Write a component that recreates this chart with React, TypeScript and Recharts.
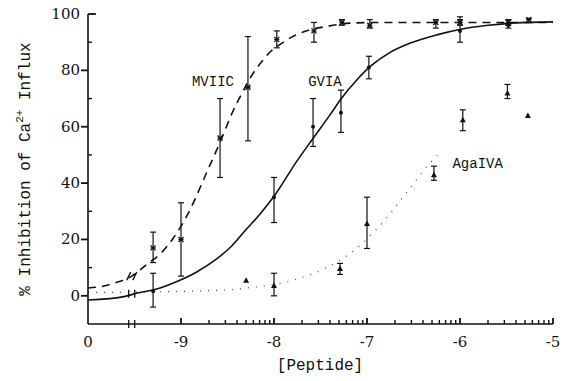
import React from "react";
import { ComposedChart, Line, Scatter, ErrorBar, XAxis, YAxis, ReferenceDot } from "recharts";

// x is log10 of the peptide concentration; the "0" control is drawn at -10 beyond the axis break
const xMajorTicks = [-10, -9, -8, -7, -6, -5];
const xTickLabels = ["0", "-9", "-8", "-7", "-6", "-5"];
const minorDecades = [-9, -8, -7, -6];
const minorSteps = [2, 3, 4, 5, 6, 7, 8, 9];
const yMajorTicks = [0, 20, 40, 60, 80, 100];
const yMinorTicks = [10, 30, 50, 70, 90];

// ω-conotoxin MVIIC
const mviicX = [-9.3, -9.0, -8.58, -8.28, -7.97, -7.57, -7.27, -6.97, -6.26, -6.0, -5.48, -5.26];
const mviicMean = [17, 20, 56, 74, 91, 94, 97, 96, 97, 97, 97, 98];
const mviicLow = [11.8, 7, 42, 55, 88, 90, 96, 95, 95, 96, 96, 97];
const mviicHigh = [22.6, 33, 70, 92, 94, 97, 98, 98, 98, 98, 98, 98.5];
const mviicCurveX = [-10, -9.84, -9.69, -9.53, -9.37, -9.21, -9.08, -8.94, -8.85, -8.78, -8.71, -8.63, -8.53, -8.455, -8.366, -8.294, -8.204, -8.115, -8.043, -7.917, -7.81, -7.67, -7.43, -7.15, -6.86, -5];
const mviicCurveY = [2.8, 3.4, 4.8, 7, 11.1, 15.3, 20.6, 28.2, 34.2, 39.5, 44.8, 50.7, 58.5, 64.5, 70.5, 75, 80, 83.7, 86.5, 89.6, 91.8, 93.8, 95.6, 96.8, 97, 97];

// ω-conotoxin GVIA
const gviaX = [-9.3, -8.0, -7.58, -7.28, -6.98, -6.0, -5.48];
const gviaMean = [1.6, 35, 60, 65, 81, 94, 96];
const gviaLow = [-4, 26, 53, 58, 77, 90, 95];
const gviaHigh = [8, 42, 70, 73, 85, 99, 98];
const gviaCurveX = [-10, -9.6, -9.48, -9.27, -9.05, -8.84, -8.62, -8.46, -8.3, -8.15, -8.0, -7.756, -7.577, -7.398, -7.272, -7.11, -6.968, -6.75, -6.54, -6.25, -5.99, -5.72, -5.41, -5];
const gviaCurveY = [-1.5, -0.2, 0.9, 2.3, 5, 8.3, 13, 17.5, 23.5, 29, 35.3, 47.7, 56, 64.2, 70.2, 76.6, 81.3, 86.4, 89.6, 92.6, 94.6, 95.9, 96.8, 97.2];

// ω-agatoxin IVA
const agaX = [-8.3, -8.0, -7.29, -7.0, -6.28, -5.97, -5.49, -5.27];
const agaMean = [5.5, 3.7, 9.7, 25.7, 43, 62.5, 72, 64];
const agaLow = [null, 0, 7.6, 16.8, 41, 58.6, 70, null];
const agaHigh = [null, 8, 11.5, 35, 46, 66, 75, null];
const agaCurveX = [-10, -8.97, -8.42, -8.24, -8.1, -7.77, -7.47, -7.09, -6.73, -6.66, -6.54, -6.45, -6.38, -6.31, -6.24];
const agaCurveY = [1.2, 1.6, 2.3, 3, 3.4, 5.8, 9.4, 17.5, 30, 33, 38, 42, 45, 47.6, 50];

const points = (xs: number[], ys: number[], lo: (number | null)[], hi: (number | null)[]) =>
  xs.map((x, i) => ({
    x,
    y: ys[i],
    err: lo[i] == null || hi[i] == null ? null : [ys[i] - (lo[i] as number), (hi[i] as number) - ys[i]],
  }));
const curve = (xs: number[], ys: number[]) => xs.map((x, i) => ({ x, y: ys[i] }));

const mviicPts = points(mviicX, mviicMean, mviicLow, mviicHigh);
const gviaPts = points(gviaX, gviaMean, gviaLow, gviaHigh);
const agaPts = points(agaX, agaMean, agaLow, agaHigh);

const xMinorTicks = minorDecades.flatMap((d) => minorSteps.map((k) => d + Math.log10(k)));

const INK = "#111";
const tickFont = "'DejaVu Serif', serif";
const monoFont = "'Liberation Mono', monospace";
const X_BREAK = -9.53;

const renderXTick = (props: any) => {
  const { x, y, payload } = props;
  const i = xMajorTicks.indexOf(payload.value);
  return (
    <text x={x} y={y + 23} textAnchor="middle" fontFamily={tickFont} fontSize={15} fill={INK}>
      {xTickLabels[i]}
    </text>
  );
};

const renderYTick = (props: any) => {
  const { x, y, payload } = props;
  return (
    <text x={x - 8} y={y + 5} textAnchor="end" fontFamily={tickFont} fontSize={15} fill={INK}>
      {payload.value}
    </text>
  );
};

// tick marks: up from the x axis, left of the y axis (right at the top), minor ones inward
const xMark = (len: number, w: number) => (p: any) => (
  <line x1={p.cx} x2={p.cx} y1={p.cy} y2={p.cy - len} stroke={INK} strokeWidth={w} />
);
const yMark = (len: number, w: number) => (p: any) => (
  <line x1={p.cx} x2={p.cx + len} y1={p.cy} y2={p.cy} stroke={INK} strokeWidth={w} />
);

const Star = (p: any) => (
  <g stroke={INK} strokeWidth={1.3}>
    <line x1={p.cx - 2.5} x2={p.cx + 2.5} y1={p.cy - 2.5} y2={p.cy + 2.5} />
    <line x1={p.cx - 2.5} x2={p.cx + 2.5} y1={p.cy + 2.5} y2={p.cy - 2.5} />
    <line x1={p.cx - 2.5} x2={p.cx + 2.5} y1={p.cy} y2={p.cy} />
  </g>
);
const Dot = (p: any) => <circle cx={p.cx} cy={p.cy} r={2} fill={INK} />;
const Tri = (p: any) => (
  <path d={`M${p.cx},${p.cy - 3} L${p.cx + 3},${p.cy + 2.5} L${p.cx - 3},${p.cy + 2.5} Z`} fill={INK} />
);

const seriesLabel = (text: string) => (p: any) => (
  <text x={p.cx} y={p.cy + 5} textAnchor="middle" fontFamily={monoFont} fontSize={14} fill={INK}>
    {text}
  </text>
);

const axisBreak = (p: any) => (
  <g stroke={INK} strokeWidth={1.3}>
    <line x1={p.cx - 3} x2={p.cx - 3} y1={p.cy - 4} y2={p.cy + 4} />
    <line x1={p.cx + 3} x2={p.cx + 3} y1={p.cy - 4} y2={p.cy + 4} />
  </g>
);
const curveBreak = (p: any) => (
  <g stroke={INK} strokeWidth={1.3}>
    <line x1={p.cx - 5} x2={p.cx - 1} y1={p.cy + 4} y2={p.cy - 4} />
    <line x1={p.cx + 1} x2={p.cx + 5} y1={p.cy + 4} y2={p.cy - 4} />
  </g>
);

export default function App() {
  return (
    <div style={{ position: "absolute", left: 0, top: 0, width: 565, height: 381, background: "#fff" }}>
      <ComposedChart width={565} height={381} margin={{ top: 14, right: 12, bottom: 17, left: 28 }}>
        <XAxis
          dataKey="x"
          type="number"
          domain={[-10, -5]}
          allowDataOverflow
          ticks={xMajorTicks}
          interval={0}
          tick={renderXTick}
          tickLine={false}
          tickSize={0}
          tickMargin={0}
          height={40}
          axisLine={{ stroke: INK, strokeWidth: 1.6 }}
          label={{
            content: () => (
              <text x={320} y={370} textAnchor="middle" fontFamily={monoFont} fontSize={16} fill={INK}>
                [Peptide]
              </text>
            ),
          }}
        />
        <YAxis
          type="number"
          domain={[-10, 100]}
          allowDataOverflow
          ticks={yMajorTicks}
          interval={0}
          tick={renderYTick}
          tickLine={false}
          tickSize={0}
          tickMargin={0}
          width={60}
          axisLine={{ stroke: INK, strokeWidth: 1.6 }}
          label={{
            content: () => (
              <text
                x={26}
                y={169}
                transform="rotate(-90 26 169)"
                textAnchor="middle"
                dominantBaseline="central"
                fontFamily={monoFont}
                fontSize={16}
                fill={INK}
              >
                % Inhibition of Ca
                <tspan dy={-6} fontSize={11}>2+</tspan>
                <tspan dy={6}> Influx</tspan>
              </text>
            ),
          }}
        />
        {xMajorTicks.slice(1).map((v) => (
          <ReferenceDot key={`xM${v}`} x={v} y={-10} r={0} shape={xMark(6, 1.8)} />
        ))}
        {xMinorTicks.map((v) => (
          <ReferenceDot key={`xm${v}`} x={v} y={-10} r={0} shape={xMark(4, 1.4)} />
        ))}
        {yMajorTicks.map((v) => (
          <ReferenceDot key={`yM${v}`} x={-10} y={v} r={0} shape={yMark(v === 100 ? 8 : -7, 1.8)} />
        ))}
        {yMinorTicks.map((v) => (
          <ReferenceDot key={`ym${v}`} x={-10} y={v} r={0} shape={yMark(4, 1.4)} />
        ))}
        <Line data={curve(agaCurveX, agaCurveY)} dataKey="y" type="monotone" stroke="#444" strokeWidth={1.2} strokeDasharray="1 7" dot={false} isAnimationActive={false} />
        <Line data={curve(mviicCurveX, mviicCurveY)} dataKey="y" type="monotone" stroke={INK} strokeWidth={1.6} strokeDasharray="8 6" dot={false} isAnimationActive={false} />
        <Line data={curve(gviaCurveX, gviaCurveY)} dataKey="y" type="monotone" stroke={INK} strokeWidth={1.6} dot={false} isAnimationActive={false} />
        <Scatter data={agaPts} dataKey="y" shape={Tri} isAnimationActive={false}>
          <ErrorBar dataKey="err" direction="y" width={3} stroke={INK} strokeWidth={1.2} />
        </Scatter>
        <Scatter data={gviaPts} dataKey="y" shape={Dot} isAnimationActive={false}>
          <ErrorBar dataKey="err" direction="y" width={3} stroke={INK} strokeWidth={1.2} />
        </Scatter>
        <Scatter data={mviicPts} dataKey="y" shape={Star} isAnimationActive={false}>
          <ErrorBar dataKey="err" direction="y" width={3} stroke={INK} strokeWidth={1.2} />
        </Scatter>
        <ReferenceDot x={-8.656} y={76.3} r={0} shape={seriesLabel("MVIIC")} />
        <ReferenceDot x={-7.452} y={76.3} r={0} shape={seriesLabel("GVIA")} />
        <ReferenceDot x={-5.81} y={47.3} r={0} shape={seriesLabel("AgaIVA")} />
        <ReferenceDot x={X_BREAK} y={-10} r={0} shape={axisBreak} />
        <ReferenceDot x={X_BREAK} y={7} r={0} shape={curveBreak} />
        <ReferenceDot x={X_BREAK} y={0.7} r={0} shape={axisBreak} />
      </ComposedChart>
    </div>
  );
}
